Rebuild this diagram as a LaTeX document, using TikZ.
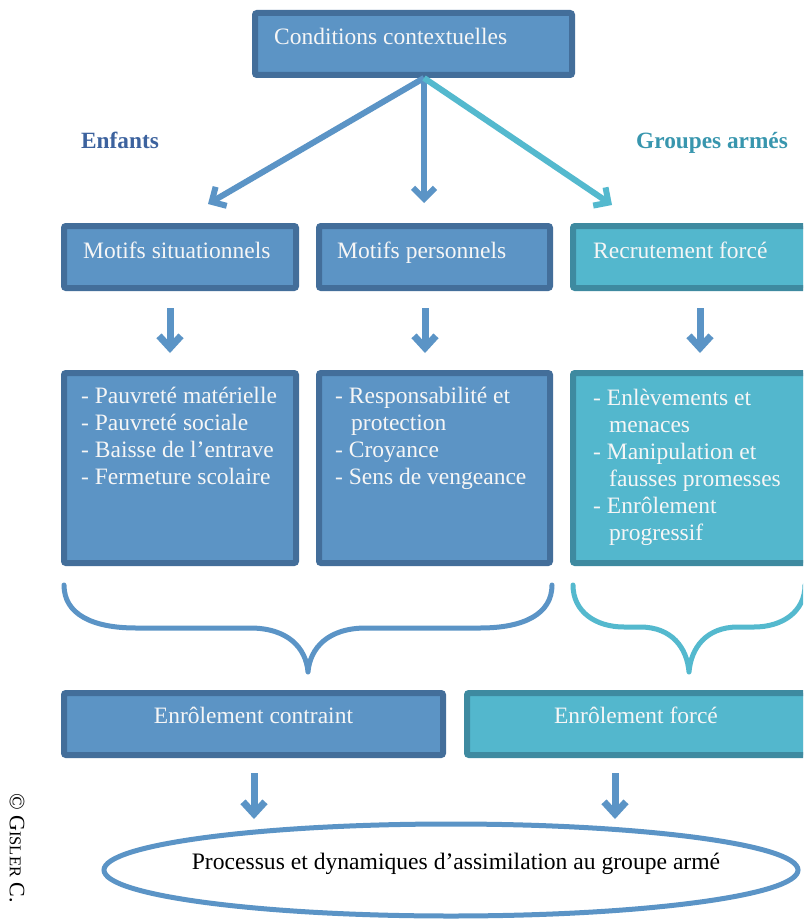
\documentclass[tikz,border=0pt]{standalone}
\usepackage{fontspec}
\setmainfont{Liberation Serif}
\usetikzlibrary{arrows.meta,shadows,shapes.geometric}

\definecolor{boxblue}{RGB}{92,148,197}
\definecolor{edgeblue}{RGB}{67,110,154}
\definecolor{boxteal}{RGB}{83,183,205}
\definecolor{edgeteal}{RGB}{62,138,160}
\definecolor{arrowblue}{RGB}{91,148,198}
\definecolor{arrowteal}{RGB}{84,185,206}
\definecolor{headblue}{RGB}{60,98,158}
\definecolor{headteal}{RGB}{56,150,174}
\definecolor{boxtext}{RGB}{246,246,246}

\tikzset{
  panel/.style={line width=6pt, rounded corners=2pt, anchor=north west,
    inner sep=0pt, outer sep=0pt,
    drop shadow={opacity=0.3, shadow xshift=1pt, shadow yshift=-2pt}},
  bluepanel/.style={panel, draw=edgeblue, fill=boxblue},
  tealpanel/.style={panel, draw=edgeteal, fill=boxteal},
  boxlabel/.style={anchor=base west, inner sep=0pt, text=boxtext,
    font=\fontsize{23.5}{27}\selectfont},
  centrelabel/.style={boxlabel, anchor=base},
  heading/.style={anchor=base west, inner sep=0pt, font=\fontsize{23.3}{27}\selectfont\bfseries},
  bigarrow/.style={line width=6pt, -{Straight Barb[length=11pt,width=22pt]}},
  smallarrow/.style={line width=7pt, arrowblue, -{Straight Barb[length=12pt,width=22pt]}},
  bracket/.style={line width=5pt, line cap=round, line join=round},
}

\begin{document}
\begin{tikzpicture}[x=1pt, y=-1pt]
  \fill[white] (0,0) rectangle (803,923);
  \clip (0,0) rectangle (803,923);

  % ---- top box -------------------------------------------------------
  \node[bluepanel, minimum width=317pt, minimum height=62pt] (ctx) at (255,13) {};
  \node[boxlabel] (ctxtxt) at (274,45) {Conditions contextuelles};

  % ---- side headings ---------------------------------------------------
  \node[heading, text=headblue] (enf) at (81,148) {Enfants};
  \node[heading, text=headteal] (grp) at (636,148) {Groupes armés};

  % ---- second row -------------------------------------------------------
  \node[bluepanel, minimum width=232pt, minimum height=62pt] (sit) at (64,226) {};
  \node[bluepanel, minimum width=231pt, minimum height=62pt] (per) at (319,226) {};
  \node[tealpanel, minimum width=254pt, minimum height=62pt] (rec) at (573,226) {};
  \node[boxlabel] (sittxt) at (83,258) {Motifs situationnels};
  \node[boxlabel] (pertxt) at (337,258) {Motifs personnels};
  \node[boxlabel] (rectxt) at (593,258) {Recrutement forcé};

  % ---- arrows from the top box -------------------------------------------
  \coordinate (ctxfoot) at (424,78);
  \coordinate (tipA) at (208,204);
  \coordinate (tipB) at (424,203);
  \coordinate (tipC) at (612,205);
  \draw[bigarrow, arrowblue] (ctxfoot) -- (tipA);
  \draw[bigarrow, arrowblue] (ctxfoot) -- (tipB);
  \draw[bigarrow, arrowteal] (ctxfoot) -- (tipC);

  % ---- small arrows between rows ----------------------------------------
  \coordinate (a1s) at (170,308); \coordinate (a1e) at (170,353);
  \coordinate (a2s) at (425,308); \coordinate (a2e) at (425,353);
  \coordinate (a3s) at (700,308); \coordinate (a3e) at (700,353);
  \draw[smallarrow] (a1s) -- (a1e);
  \draw[smallarrow] (a2s) -- (a2e);
  \draw[smallarrow] (a3s) -- (a3e);

  % ---- detail boxes -------------------------------------------------------
  \node[bluepanel, minimum width=232pt, minimum height=190pt] (sitlist) at (64,373) {};
  \node[bluepanel, minimum width=231pt, minimum height=190pt] (perlist) at (319,373) {};
  \node[tealpanel, minimum width=254pt, minimum height=190pt] (reclist) at (573,373) {};

  \node[boxlabel] (sitlisttxt) at (81,403) {%
    \begin{tabular}[t]{@{}l@{}}
      - Pauvreté matérielle\\
      - Pauvreté sociale\\
      - Baisse de l’entrave\\
      - Fermeture scolaire
    \end{tabular}};
  \node[boxlabel] (perlisttxt) at (335,403) {%
    \begin{tabular}[t]{@{}l@{}}
      - Responsabilité et\\
      \hspace*{16pt}protection\\
      - Croyance\\
      - Sens de vengeance
    \end{tabular}};
  \node[boxlabel] (reclisttxt) at (593,405) {%
    \begin{tabular}[t]{@{}l@{}}
      - Enlèvements et\\
      \hspace*{16pt}menaces\\
      - Manipulation et\\
      \hspace*{16pt}fausses promesses\\
      - Enrôlement\\
      \hspace*{16pt}progressif
    \end{tabular}};

  % ---- braces -------------------------------------------------------------
  \coordinate (braceL) at (308,672);
  \coordinate (braceR) at (689,672);
  \draw[bracket, arrowblue]
    (64,585) .. controls (64,614) and (92,628) .. (136,628) -- (250,628)
    .. controls (288,628) and (306,648) .. (braceL)
    .. controls (310,648) and (328,628) .. (366,628) -- (480,628)
    .. controls (524,628) and (552,614) .. (552,585);
  \draw[bracket, arrowteal]
    (573,585) .. controls (573,612) and (596,627) .. (624,627) -- (640,627)
    .. controls (672,627) and (687,648) .. (braceR)
    .. controls (691,648) and (706,627) .. (738,627) -- (754,627)
    .. controls (782,627) and (805,612) .. (805,585);

  % ---- enrolment boxes ----------------------------------------------------
  \node[bluepanel, minimum width=379pt, minimum height=62pt] (con) at (64,693) {};
  \node[tealpanel, minimum width=343pt, minimum height=62pt] (for) at (467,693) {};
  \node[centrelabel] (contxt) at (253.5,723) {Enrôlement contraint};
  \node[centrelabel] (fortxt) at (636,723) {Enrôlement forcé};

  % ---- arrows to the ellipse ---------------------------------------------
  \coordinate (b1s) at (254,773); \coordinate (b1e) at (254,819);
  \coordinate (b2s) at (615,773); \coordinate (b2e) at (615,819);
  \draw[smallarrow] (b1s) -- (b1e);
  \draw[smallarrow] (b2s) -- (b2e);

  % ---- final ellipse ------------------------------------------------------
  \node[ellipse, draw=arrowblue, line width=5pt, minimum width=694pt,
        minimum height=92pt, inner sep=0pt] (proc) at (451,870) {};
  \node[anchor=base, inner sep=0pt, font=\fontsize{23.6}{27}\selectfont]
        (proctxt) at (456,869) {Processus et dynamiques d’assimilation au groupe armé};

  % ---- credit line --------------------------------------------------------
  \node[rotate=-90, inner sep=0pt, font=\fontsize{22}{24}\selectfont]
        (credit) at (17,848) {© G{\fontsize{16.5}{18}\selectfont ISLER} C.};
\end{tikzpicture}
\end{document}
